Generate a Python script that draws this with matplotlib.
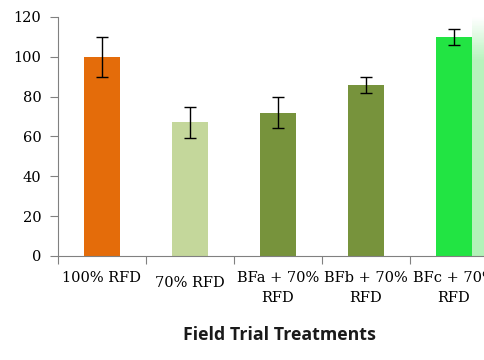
import matplotlib
matplotlib.use("Agg")
import matplotlib.pyplot as plt
import numpy as np

treatments = ["100% RFD", "70% RFD", "BFa + 70%\nRFD", "BFb + 70%\nRFD", "BFc + 70%\nRFD"]
values = [100, 67, 72, 86, 110]
errors = [10, 8, 8, 4, 4]
colors = ["#E46C0A", "#C4D79B", "#77933C", "#77933C", "#22E443"]
y_ticks = [0, 20, 40, 60, 80, 100, 120]

fig = plt.figure(figsize=(4.85, 3.6), dpi=100)
ax = fig.add_axes([0.1196, 0.289, 0.907, 0.664])

x = np.arange(len(treatments))
bar_w = 0.40
ax.bar(x, values, width=bar_w, color=colors, zorder=2)
ax.errorbar(x, values, yerr=errors, fmt="none", ecolor="black",
            elinewidth=1.0, capsize=4, capthick=1.0, zorder=3)

# pale green glow to the right of the last bar
grad = np.linspace(0, 1, 100).reshape(-1, 1)
glow = matplotlib.colors.LinearSegmentedColormap.from_list(
    "glow", [(0, "#b2f2b8"), (0.82, "#b8f3bd"), (1, "#ffffff")])
ax.imshow(grad, extent=(x[-1] + bar_w / 2, x[-1] + bar_w / 2 + 0.4, 0, 120),
          aspect="auto", origin="lower", zorder=1, cmap=glow)

ax.set_xlim(-0.5, 4.5)
ax.set_ylim(0, 120)
ax.set_yticks(y_ticks)
ax.set_yticklabels([str(v) for v in y_ticks], family="DejaVu Serif", fontsize=10.5)
ax.tick_params(axis="y", length=6, color="#808080", width=0.8, pad=6)

ax.set_xticks(np.arange(-0.5, 4.6, 1.0))
ax.set_xticklabels([])
ax.tick_params(axis="x", length=6, color="#808080", width=0.8)

for i, lab in enumerate(treatments):
    dy = -0.085 if i == 1 else -0.062
    ax.text(x[i], dy, lab, transform=ax.get_xaxis_transform(), ha="center",
            va="top", family="DejaVu Serif", fontsize=10.5, linespacing=1.6)

for s in ["top", "right"]:
    ax.spines[s].set_visible(False)
for s in ["left", "bottom"]:
    ax.spines[s].set_color("#808080")
    ax.spines[s].set_linewidth(0.8)

fig.text(0.577, 0.07, "Field Trial Treatments", ha="center", va="center",
         family="Open Sans", fontweight="bold", fontsize=12.8, color="#1a1a1a")

fig.savefig("out.png", dpi=100)
